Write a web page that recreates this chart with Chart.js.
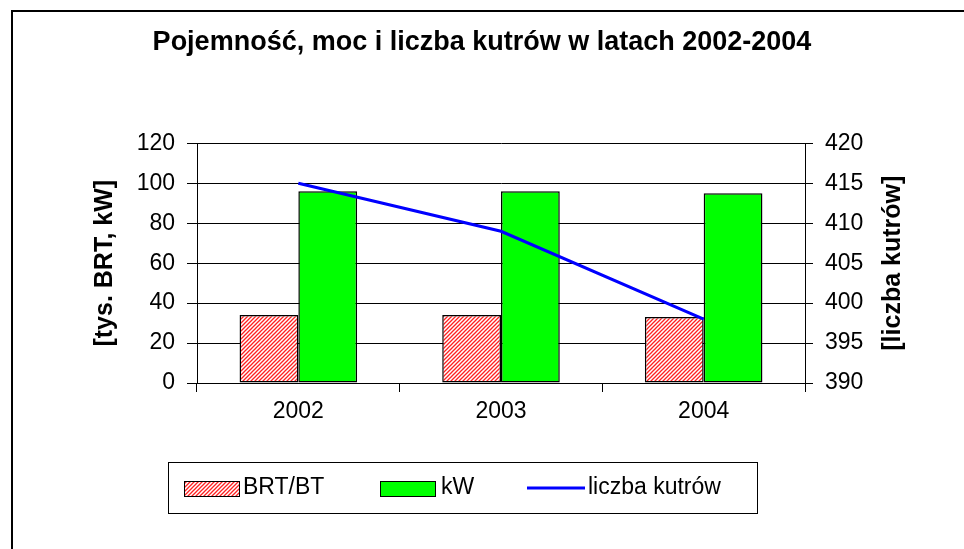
<!DOCTYPE html>
<html>
<head>
<meta charset="utf-8">
<title>Pojemność, moc i liczba kutrów</title>
<script src="https://cdn.jsdelivr.net/npm/chart.js@4.4.0/dist/chart.umd.min.js"></script>
<style>
    body { margin: 0; background: #fff; }
    #grafica { position: absolute; left: 0; top: 0; }
</style>
</head>
<body>
<canvas id="grafica" width="964" height="549"></canvas>
<script>
//datos
var anos = ['2002', '2003', '2004'];
var brt = [34, 34, 33];
var kw = [96, 96, 95];
var kutry = [415, 409, 398];
var etiquetas = ['BRT/BT', 'kW', 'liczba kutrów'];
var titulo = 'Pojemność, moc i liczba kutrów w latach 2002-2004';
var tituloIzq = '[tys. BRT, kW]';
var tituloDer = '[liczba kutrów]';

var fuente = '"Liberation Sans", Arial, sans-serif';

//patron rayado para las barras BRT
function rayado() {
    var c = document.createElement('canvas');
    c.width = 4;
    c.height = 4;
    var g = c.getContext('2d');
    g.fillStyle = '#ffffff';
    g.fillRect(0, 0, 4, 4);
    g.strokeStyle = '#ff2020';
    g.lineWidth = 1.3;
    g.beginPath();
    g.moveTo(0, 4); g.lineTo(4, 0);
    g.moveTo(-1, 1); g.lineTo(1, -1);
    g.moveTo(3, 5); g.lineTo(5, 3);
    g.stroke();
    return g.createPattern(c, 'repeat');
}
var patron = rayado();

//marco, leyenda y titulo derecho dibujados a mano
var extras = {
    id: 'extras',
    beforeDraw: function (chart) {
        var ctx = chart.ctx;
        ctx.save();
        ctx.fillStyle = '#fff';
        ctx.fillRect(0, 0, chart.width, chart.height);
        ctx.strokeStyle = '#000';
        ctx.lineWidth = 2;
        ctx.beginPath();
        ctx.moveTo(12, chart.height + 5);
        ctx.lineTo(12, 11);
        ctx.lineTo(chart.width + 5, 11);
        ctx.stroke();
        ctx.restore();
    },
    afterDraw: function (chart) {
        var ctx = chart.ctx;
        var ds = chart.data.datasets;
        ctx.save();
        //titulo del eje derecho, leido de abajo hacia arriba
        ctx.fillStyle = '#000';
        ctx.font = 'bold 25px ' + fuente;
        ctx.textAlign = 'center';
        ctx.textBaseline = 'middle';
        ctx.translate(893, (chart.chartArea.top + chart.chartArea.bottom) / 2);
        ctx.rotate(-Math.PI / 2);
        ctx.fillText(tituloDer, 0, 0);
        ctx.restore();

        //caja de la leyenda
        ctx.save();
        ctx.strokeStyle = '#000';
        ctx.lineWidth = 1;
        ctx.strokeRect(168.5, 462.5, 589, 51);
        var yMed = 488;
        ctx.font = '23px ' + fuente;
        ctx.textAlign = 'left';
        ctx.textBaseline = 'middle';
        ctx.fillStyle = '#000';
        //BRT
        ctx.fillStyle = ds[1].backgroundColor;
        ctx.fillRect(184, 481, 55, 15);
        ctx.strokeStyle = '#000';
        ctx.strokeRect(184.5, 481.5, 55, 15);
        ctx.fillStyle = '#000';
        ctx.fillText(ds[1].label, 243, yMed);
        //kW
        ctx.fillStyle = ds[2].backgroundColor;
        ctx.fillRect(380, 481, 55, 15);
        ctx.strokeRect(380.5, 481.5, 55, 15);
        ctx.fillStyle = '#000';
        ctx.fillText(ds[2].label, 441, yMed);
        //linea
        ctx.strokeStyle = ds[0].borderColor;
        ctx.lineWidth = 3;
        ctx.beginPath();
        ctx.moveTo(527, yMed);
        ctx.lineTo(585, yMed);
        ctx.stroke();
        ctx.fillText(ds[0].label, 588, yMed);
        ctx.restore();
    }
};

var ctx = document.getElementById('grafica').getContext('2d');
var miGrafico = new Chart(ctx, {
    type: 'bar',
    data: {
        labels: anos,
        datasets: [
            {
                type: 'line',
                label: etiquetas[2],
                data: kutry,
                yAxisID: 'y1',
                borderColor: '#0000ff',
                borderWidth: 3,
                pointRadius: 0,
                fill: false,
                tension: 0,
                order: 0
            },
            {
                label: etiquetas[0],
                data: brt,
                yAxisID: 'y',
                backgroundColor: patron,
                borderColor: '#000',
                borderWidth: 1.5,
                borderSkipped: false,
                order: 1
            },
            {
                label: etiquetas[1],
                data: kw,
                yAxisID: 'y',
                backgroundColor: '#00ff00',
                borderColor: '#000',
                borderWidth: 1.5,
                borderSkipped: false,
                order: 2
            }
        ]
    },
    options: {
        responsive: false,
        animation: false,
        datasets: {
            bar: { categoryPercentage: 0.58, barPercentage: 1 }
        },
        layout: { padding: 0 },
        plugins: {
            legend: { display: false },
            tooltip: { enabled: false },
            title: {
                display: true,
                text: titulo,
                color: '#000',
                font: { family: fuente, size: 27, weight: 'bold', lineHeight: 1.2 },
                padding: { top: 26, bottom: 85 }
            }
        },
        scales: {
            x: {
                offset: true,
                grid: { offset: true, drawOnChartArea: false, drawTicks: true, tickLength: 9, color: '#000' },
                border: { display: true, color: '#000', width: 1 },
                ticks: { color: '#000', font: { family: fuente, size: 23 }, padding: 6 },
                afterFit: function (s) { s.height = 166; }
            },
            y: {
                position: 'left',
                min: 0,
                max: 120,
                ticks: { stepSize: 20, color: '#000', font: { family: fuente, size: 23 }, padding: 12 },
                grid: { color: '#000', tickLength: 10 },
                border: { display: true, color: '#000', width: 1 },
                title: {
                    display: true,
                    text: tituloIzq,
                    color: '#000',
                    font: { family: fuente, size: 25, weight: 'bold', lineHeight: 1.2 },
                    padding: { top: 90, bottom: 0 }
                },
                afterFit: function (s) { s.width = 197; }
            },
            y1: {
                position: 'right',
                min: 390,
                max: 420,
                ticks: { stepSize: 5, color: '#000', font: { family: fuente, size: 23 }, padding: 12 },
                grid: { drawOnChartArea: false, color: '#000', tickLength: 8 },
                border: { display: true, color: '#000', width: 1 },
                afterFit: function (s) { s.width = 159; }
            }
        }
    },
    plugins: [extras]
});
</script>
</body>
</html>
